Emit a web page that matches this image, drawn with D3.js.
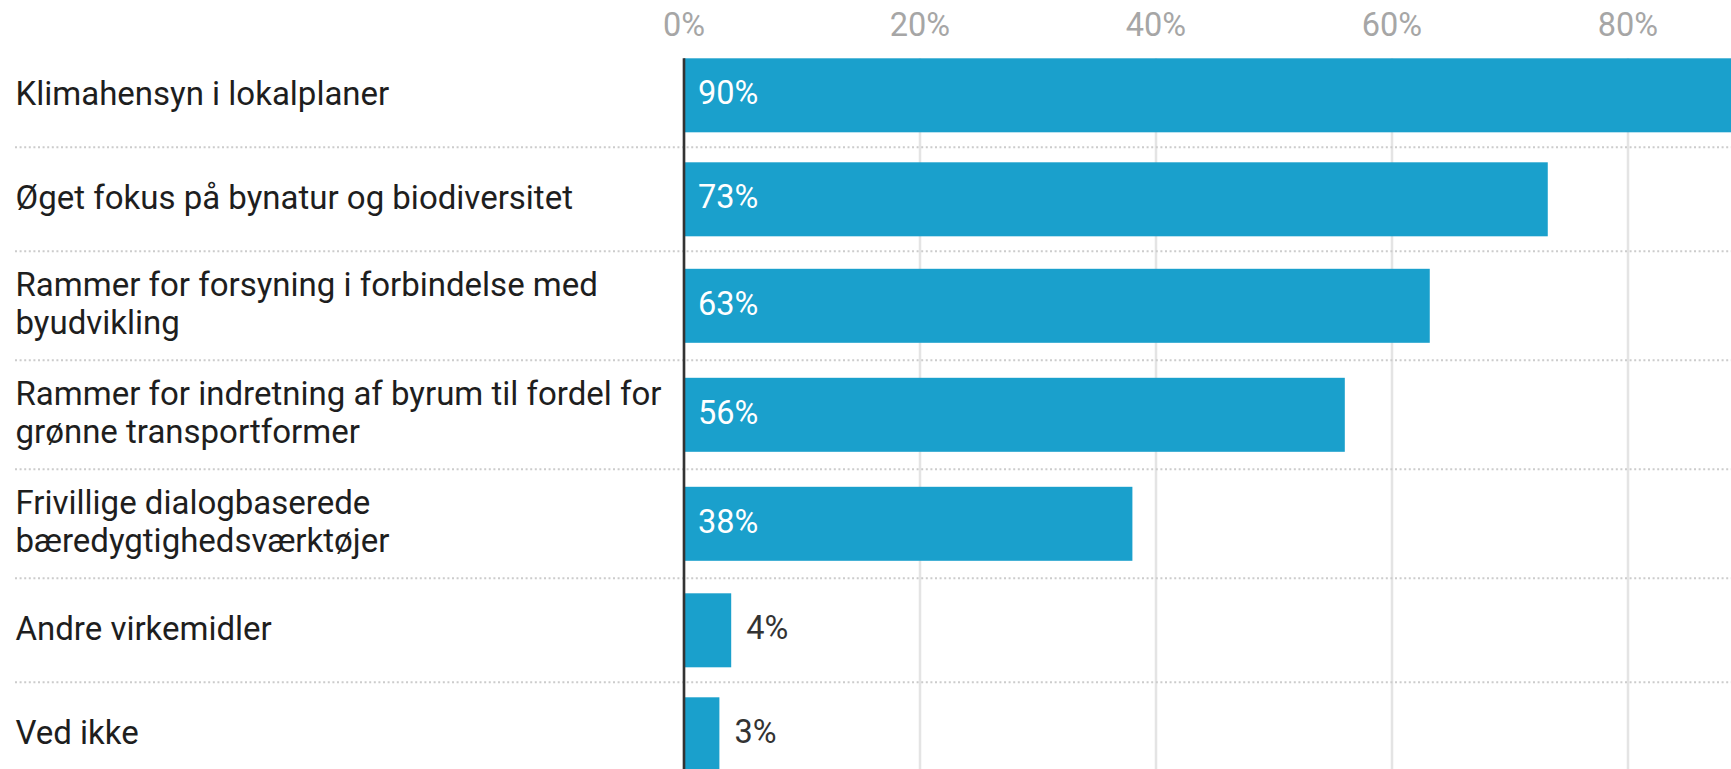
<!DOCTYPE html>
<html>
<head>
  <meta charset="utf-8">
  <title>Virkemidler</title>
  <script src="https://d3js.org/d3.v7.min.js"></script>
  <style>
    body { margin: 0; background: #fff; }
    svg { display: block; font-family: Roboto, "Noto Sans", sans-serif; }
  </style>
</head>
<body>
<script>
  // data
  var categories = [
    ["Klimahensyn i lokalplaner"],
    ["Øget fokus på bynatur og biodiversitet"],
    ["Rammer for forsyning i forbindelse med", "byudvikling"],
    ["Rammer for indretning af byrum til fordel for", "grønne transportformer"],
    ["Frivillige dialogbaserede", "bæredygtighedsværktøjer"],
    ["Andre virkemidler"],
    ["Ved ikke"]
  ]
  var values = [90, 73.2, 63.2, 56, 38, 4, 3]
  var tickValues = [0, 20, 40, 60, 80]   // 100% sits beyond the right edge

  var viz = {width: 1731, height: 769, left: 684, barH: 74, lineH: 39.5, pad: 30, top: 43.3,
             fontSize: 32.5, labelSize: 33, bar: "#1aa0cc"}

  var svg = d3.select("body").append("svg")
      .attr("width", viz.width).attr("height", viz.height)

  // x scale: 0..100 %, chart continues beyond the right edge
  var x = d3.scaleLinear().domain([0, 100]).range([viz.left, viz.left + 1180])

  // row heights depend on number of label lines
  var keys = categories.map(function(d) { return d.join(" ") })
  var rowH = categories.map(function(d) { return Math.max(viz.barH, d.length * viz.lineH) + viz.pad })
  var rowEnd = Array.from(d3.cumsum(rowH)).map(function(v) { return v + viz.top })
  var rowMid = rowEnd.map(function(e, i) { return e - rowH[i] / 2 })
  var y = d3.scaleOrdinal().domain(keys).range(rowMid)

  var barTop = rowMid[0] - viz.barH / 2

  // gridlines (100 included, off screen)
  svg.append("g").selectAll("line").data(tickValues.concat([100])).enter().append("line")
      .attr("x1", function(d) { return x(d) }).attr("x2", function(d) { return x(d) })
      .attr("y1", barTop).attr("y2", viz.height)
      .attr("stroke", "#e4e4e4").attr("stroke-width", 2.5)

  // tick labels
  svg.append("g").selectAll("text").data(tickValues).enter().append("text")
      .attr("x", function(d) { return x(d) }).attr("y", 36)
      .attr("text-anchor", "middle")
      .attr("font-size", viz.fontSize).attr("fill", "#a6a6a6")
      .text(function(d) { return d + "%" })

  // dotted separators between rows
  svg.append("g").selectAll("line").data(rowEnd.slice(0, -1)).enter().append("line")
      .attr("x1", 15).attr("x2", viz.width)
      .attr("y1", function(d) { return d }).attr("y2", function(d) { return d })
      .attr("stroke", "#cccccc").attr("stroke-width", 2)
      .attr("stroke-dasharray", "2,2.6")

  // category labels
  var labels = svg.append("g").selectAll("text").data(categories).enter().append("text")
      .attr("x", 15.5)
      .attr("font-size", viz.labelSize).attr("fill", "#1e1e1e")
  labels.each(function(d) {
    var t = d3.select(this), mid = y(d.join(" "))
    d.forEach(function(line, i) {
      t.append("tspan")
        .attr("x", 15.5)
        .attr("y", mid + (i - (d.length - 1) / 2) * 38)
        .attr("dy", "0.28em")
        .text(line)
    })
  })

  // bars
  svg.append("g").selectAll("rect").data(values).enter().append("rect")
      .attr("x", x(0))
      .attr("y", function(d, i) { return y(keys[i]) - viz.barH / 2 })
      .attr("width", function(d) { return x(d) - x(0) })
      .attr("height", viz.barH)
      .attr("fill", viz.bar)

  // value labels
  svg.append("g").selectAll("text").data(values).enter().append("text")
      .attr("x", function(d) { return d > 10 ? x(0) + 14 : x(d) + 15 })
      .attr("y", function(d, i) { return y(keys[i]) })
      .attr("dy", "0.28em")
      .attr("font-size", viz.fontSize)
      .attr("fill", function(d) { return d > 10 ? "#fff" : "#333" })
      .text(function(d) { return Math.round(d) + "%" })

  // zero line
  svg.append("line")
      .attr("x1", x(0)).attr("x2", x(0))
      .attr("y1", barTop).attr("y2", viz.height)
      .attr("stroke", "#333").attr("stroke-width", 2.6)
</script>
</body>
</html>
